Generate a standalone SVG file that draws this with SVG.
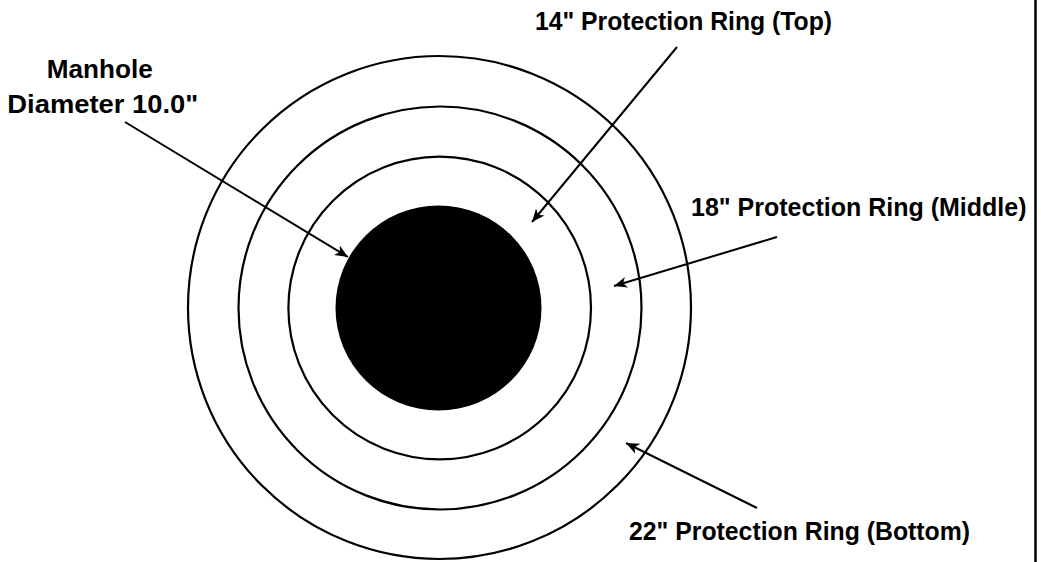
<svg xmlns="http://www.w3.org/2000/svg" width="1041" height="562" viewBox="0 0 1041 562">
  <style>
    .ring { fill: none; stroke: #000; stroke-width: 2.2; }
    .conn { stroke: #000; stroke-width: 2; fill: none; marker-end: url(#arr); }
    .lbl { font-family: "Liberation Sans", Arial, sans-serif; font-size: 25px; font-weight: bold; fill: #000; }
  </style>
  <defs>
    <marker id="arr" markerUnits="userSpaceOnUse" markerWidth="16" markerHeight="12" refX="13" refY="5.5" orient="auto">
      <path d="M0,0 L13,5.5 L0,11 L3.5,5.5 Z" fill="#000"/>
    </marker>
  </defs>
  <rect x="0" y="0" width="1041" height="562" fill="#fff"/>
  <g id="ring-bottom"><circle class="ring" cx="439.5" cy="307.5" r="251.5"/></g>
  <g id="ring-middle"><circle class="ring" cx="440" cy="308" r="201.5"/></g>
  <g id="ring-top"><circle class="ring" cx="439.7" cy="308" r="151.3"/></g>
  <g id="manhole"><ellipse cx="438.5" cy="308" rx="103" ry="102.5" fill="#000"/></g>
  <g id="label-manhole">
    <text class="lbl" x="46.7" y="78" textLength="106" lengthAdjust="spacingAndGlyphs">Manhole</text>
    <text class="lbl" x="7.3" y="113" textLength="191" lengthAdjust="spacingAndGlyphs">Diameter 10.0"</text>
  </g>
  <g id="label-top"><text class="lbl" x="535" y="30" textLength="297" lengthAdjust="spacingAndGlyphs">14" Protection Ring (Top)</text></g>
  <g id="label-middle"><text class="lbl" x="691" y="216">18" Protection Ring (Middle)</text></g>
  <g id="label-bottom"><text class="lbl" x="629" y="540" textLength="341" lengthAdjust="spacingAndGlyphs">22" Protection Ring (Bottom)</text></g>
  <g id="connectors">
    <line class="conn" x1="125" y1="122" x2="348" y2="257"/>
    <line class="conn" x1="677" y1="47" x2="532" y2="222"/>
    <line class="conn" x1="777" y1="237" x2="614" y2="286"/>
    <line class="conn" x1="757" y1="508" x2="626" y2="443"/>
  </g>
  <g id="border"><line x1="1035.5" y1="0" x2="1035.5" y2="562" stroke="#000" stroke-width="2.5"/></g>
</svg>
